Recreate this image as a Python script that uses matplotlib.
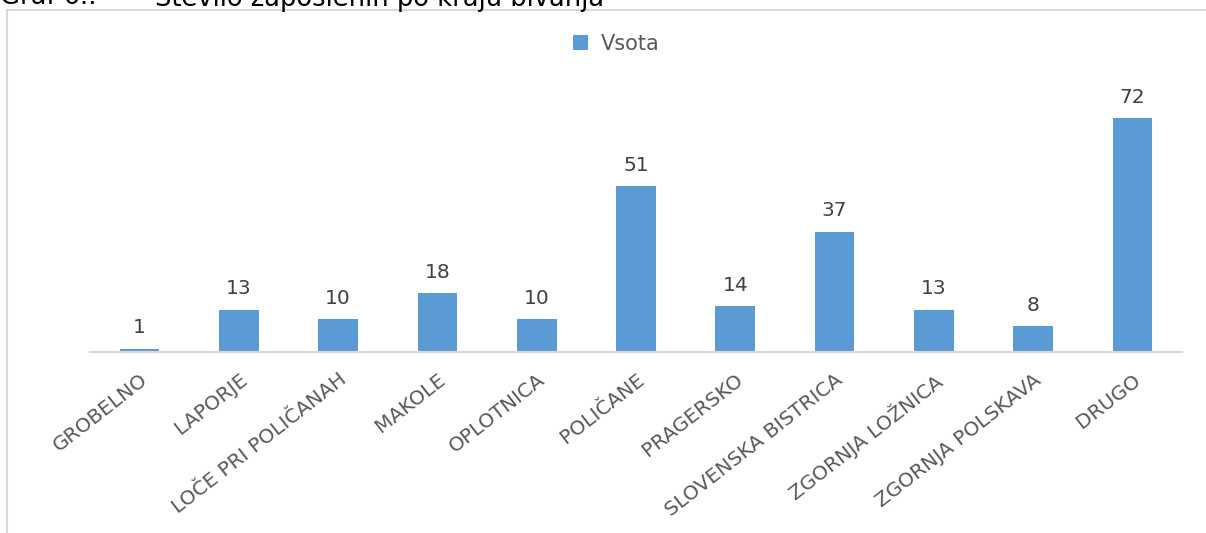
import matplotlib.pyplot as plt
import matplotlib.patches as mpatches
import numpy as np

plt.rcParams['font.family'] = ['DejaVu Sans']

# data
categories = ['GROBELNO', 'LAPORJE', 'LOČE PRI POLIČANAH', 'MAKOLE', 'OPLOTNICA',
              'POLIČANE', 'PRAGERSKO', 'SLOVENSKA BISTRICA', 'ZGORNJA LOŽNICA',
              'ZGORNJA POLSKAVA', 'DRUGO']
vsota = [1, 13, 10, 18, 10, 51, 14, 37, 13, 8, 72]

bar_color = '#5b9bd5'
text_gray = '#595959'

fig = plt.figure(figsize=(12.06, 5.33), dpi=100)
ax = fig.add_axes([90 / 1206, 1 - 352 / 533, (1182 - 90) / 1206, (352 - 60) / 533])

x = np.arange(len(categories))
bars = ax.bar(x, vsota, width=0.4, color=bar_color, label='Vsota', zorder=2)

ax.set_xlim(-0.5, len(categories) - 0.5)
ax.set_ylim(0, 89.8)

for xi, v in zip(x, vsota):
    ax.annotate(str(v), (xi, v), xytext=(0, 11), textcoords='offset points',
                ha='center', va='baseline', fontsize=14.5, color='#404040')

# hide everything but the category axis line
for spine in ['left', 'top', 'right']:
    ax.spines[spine].set_visible(False)
ax.spines['bottom'].set_color('#d9d9d9')
ax.spines['bottom'].set_linewidth(1.5)
ax.set_yticks([])
ax.set_xticks(x)
ax.set_xticklabels(categories, rotation=38, ha='right', va='top',
                   rotation_mode='anchor', fontsize=14.5, color=text_gray)
ax.tick_params(axis='x', length=0, pad=13)

leg = ax.legend(loc='center', bbox_to_anchor=(0.482, 1.055), frameon=False,
                fontsize=15, handlelength=0.7, handleheight=0.7, handletextpad=0.6)
for t in leg.get_texts():
    t.set_color(text_gray)

# chart frame (word screenshot, bottom cut off)
frame = mpatches.Rectangle((7 / 1206, -0.1), 1.1, 1.1 - 10 / 533, transform=fig.transFigure,
                           fill=False, edgecolor='#d9d9d9', linewidth=1.5)
fig.add_artist(frame)

# caption above the chart, cut off by the screenshot
fig.text(0.0, 1.0 + 3 / 533, 'Graf 6.:', fontsize=18.5, ha='left', va='center')
fig.text(155 / 1206, 1.0 + 3 / 533, 'Število zaposlenih po kraju bivanja', fontsize=18.5,
         ha='left', va='center')

fig.savefig('out.png', dpi=100)
